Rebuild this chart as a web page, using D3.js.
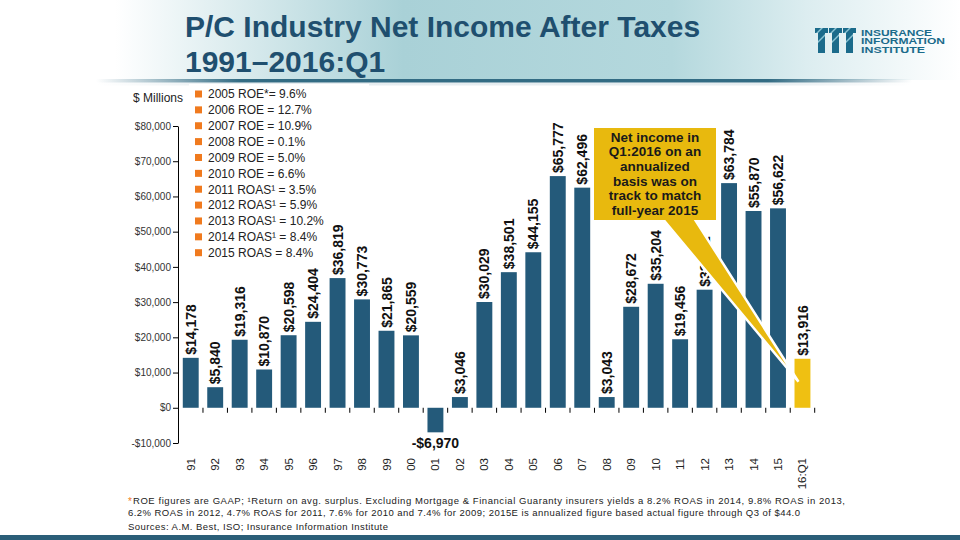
<!DOCTYPE html>
<html>
<head>
<meta charset="utf-8">
<script src="https://cdn.jsdelivr.net/npm/d3@7"></script>
<style>
  body { margin: 0; background: #fff; }
  svg { display: block; font-family: "Liberation Sans", Arial, sans-serif; }
</style>
</head>
<body>
<div id="chart"></div>
<script>
// data
const years = ['91', '92', '93', '94', '95', '96', '97', '98', '99', '00', '01', '02', '03',
    '04', '05', '06', '07', '08', '09', '10', '11', '12', '13', '14', '15', '16:Q1'];
const netIncome = [14178, 5840, 19316, 10870, 20598, 24404, 36819, 30773, 21865, 20559, -6970,
    3046, 30029, 38501, 44155, 65777, 62496, 3043, 28672, 35204, 19456, 33522, 63784,
    55870, 56622, 13916];
const yTicks = [-10000, 0, 10000, 20000, 30000, 40000, 50000, 60000, 70000, 80000];
const legendLines = ['2005 ROE*= 9.6%', '2006 ROE = 12.7%', '2007 ROE = 10.9%', '2008 ROE = 0.1%',
    '2009 ROE = 5.0%', '2010 ROE = 6.6%', '2011 ROAS\u00b9 = 3.5%', '2012 ROAS\u00b9 = 5.9%',
    '2013 ROAS\u00b9 = 10.2%', '2014 ROAS\u00b9 = 8.4%', '2015 ROAS = 8.4%'];
const calloutLines = ['Net income in', 'Q1:2016 on an', 'annualized', 'basis was on',
    'track to match', 'full-year 2015'];
const titleLines = ['P/C Industry Net Income After Taxes', '1991\u20132016:Q1'];
const footLines = [
    'ROE figures are GAAP; \u00b9Return on avg. surplus.  Excluding Mortgage & Financial Guaranty insurers yields a 8.2% ROAS in 2014, 9.8% ROAS in 2013,',
    '6.2% ROAS in 2012, 4.7% ROAS for 2011, 7.6% for 2010 and 7.4% for 2009; 2015E is annualized figure based actual figure through Q3 of $44.0',
    'Sources: A.M. Best, ISO; Insurance Information Institute'
];

const W = 960, H = 540;
const barColor = '#245a7a';
const gold = '#e8b90e';

const svg = d3.select('#chart').append('svg')
    .attr('width', W)
    .attr('height', H);

const defs = svg.append('defs');

const headGrad = defs.append('linearGradient').attr('id', 'headGrad');
headGrad.selectAll('stop')
    .data([[0, '#ffffff'], [0.12, '#ffffff'], [0.42, '#a9d1d7'], [0.7, '#b4d8dd'], [0.84, '#dcedf0'], [1, '#ffffff']])
    .enter().append('stop')
    .attr('offset', d => d[0])
    .attr('stop-color', d => d[1]);

const lineGrad = defs.append('linearGradient').attr('id', 'lineGrad');
lineGrad.selectAll('stop')
    .data([[0, 0], [0.1, 0], [0.25, 1], [0.8, 1], [0.95, 0], [1, 0]])
    .enter().append('stop')
    .attr('offset', d => d[0])
    .attr('stop-color', '#336c84')
    .attr('stop-opacity', d => d[1]);

// header
svg.append('rect')
    .attr('x', 0).attr('y', 0)
    .attr('width', W).attr('height', 80)
    .attr('fill', 'url(#headGrad)');

svg.append('rect')
    .attr('x', 0).attr('y', 79)
    .attr('width', W).attr('height', 3.5)
    .attr('fill', 'url(#lineGrad)');

svg.append('rect')
    .attr('x', 0).attr('y', 82.5)
    .attr('width', W).attr('height', 3)
    .attr('fill', 'url(#lineGrad)')
    .attr('opacity', 0.12);

svg.selectAll('.title')
    .data(titleLines)
    .enter().append('text')
    .attr('class', 'title')
    .attr('x', 185)
    .attr('y', (d, i) => 37 + i * 35)
    .attr('fill', '#1f4f6f')
    .style('font-size', '30px')
    .style('font-weight', 'bold')
    .text(d => d);

// logo
const logo = svg.append('g').attr('transform', 'translate(815,28)');
[0, 14, 28].forEach(dx => {
    logo.append('rect').attr('x', dx).attr('y', 0).attr('width', 13).attr('height', 5).attr('fill', '#1b6b8b');
    logo.append('rect').attr('x', dx + 3).attr('y', 5).attr('width', 7).attr('height', 20).attr('fill', '#1b6b8b');
    logo.append('path')
        .attr('d', `M${dx + 1},5 L${dx + 6},0 L${dx + 8},0 L${dx + 3},5 Z M${dx + 3},13 L${dx + 10},6 L${dx + 10},8 L${dx + 3},15 Z`)
        .attr('fill', '#8cc4d4');
});
logo.selectAll('.logoText')
    .data(['INSURANCE', 'INFORMATION', 'INSTITUTE'])
    .enter().append('text')
    .attr('x', 46)
    .attr('y', (d, i) => 7.5 + i * 8.5)
    .attr('fill', '#1b6b8b')
    .attr('textLength', (d, i) => [71, 84, 64][i])
    .attr('lengthAdjust', 'spacingAndGlyphs')
    .style('font-size', '9px')
    .style('font-weight', 'bold')
    .text(d => d);

// legend (drawn first so the value labels sit above its white box)
const legend = svg.append('g').attr('class', 'legend');
legend.append('rect')
    .attr('x', 189).attr('y', 84)
    .attr('width', 180).attr('height', 176)
    .attr('fill', '#fff');
const li = legend.selectAll('.item')
    .data(legendLines)
    .enter().append('g')
    .attr('class', 'item')
    .attr('transform', (d, i) => `translate(0,${94 + i * 15.87})`);
li.append('rect')
    .attr('x', 195).attr('y', -3.5)
    .attr('width', 7).attr('height', 7)
    .attr('fill', '#f07a1e');
li.append('text')
    .attr('x', 208)
    .attr('y', 4.3)
    .attr('fill', '#222')
    .style('font-size', '12px')
    .text(d => d);

// scales
const x = d3.scaleBand()
    .domain(years)
    .range([178.5, 814.7])
    .paddingInner(0.35)
    .paddingOuter(0.175);

const y = d3.scaleLinear()
    .domain([-10000, 80000])
    .range([443, 126]);

const money = d3.format(',');
const fmtMoney = v => (v < 0 ? '-$' : '$') + money(Math.abs(v));

// y axis
const yAxis = svg.append('g')
    .attr('transform', 'translate(178,0)')
    .call(d3.axisLeft(y)
        .tickValues(yTicks)
        .tickSize(5)
        .tickSizeOuter(0)
        .tickFormat(fmtMoney));
yAxis.select('.domain').attr('stroke', '#000');
yAxis.selectAll('.tick line').attr('stroke', '#000');
yAxis.selectAll('.tick text')
    .attr('x', -7)
    .attr('fill', '#333')
    .style('font-family', '"Liberation Sans", Arial, sans-serif')
    .style('font-size', '10px');

svg.append('text')
    .attr('x', 133)
    .attr('y', 102)
    .attr('fill', '#222')
    .style('font-size', '12px')
    .text('$ Millions');

// x ticks at band boundaries
const step = x.step();
const bounds = years.map(d => x(d) + x.bandwidth() + (step - x.bandwidth()) / 2);
svg.selectAll('.xtick')
    .data(bounds)
    .enter().append('line')
    .attr('class', 'xtick')
    .attr('x1', d => d).attr('x2', d => d)
    .attr('y1', y(0)).attr('y2', y(0) + 5)
    .attr('stroke', '#000');

svg.selectAll('.xlabel')
    .data(years)
    .enter().append('text')
    .attr('class', 'xlabel')
    .attr('transform', d => `translate(${x(d) + x.bandwidth() / 2},458) rotate(-90)`)
    .attr('text-anchor', 'end')
    .attr('dy', '0.35em')
    .attr('fill', '#222')
    .style('font-size', '11.5px')
    .text(d => d);

// bars
svg.selectAll('.bar')
    .data(netIncome)
    .enter().append('rect')
    .attr('class', 'bar')
    .attr('x', (d, i) => x(years[i]))
    .attr('y', d => y(Math.max(0, d)))
    .attr('width', x.bandwidth())
    .attr('height', d => Math.abs(y(d) - y(0)))
    .attr('fill', (d, i) => i === years.length - 1 ? '#efc012' : barColor);

// value labels
svg.selectAll('.val')
    .data(netIncome.map((v, i) => ({ v, i })).filter(d => d.v >= 0))
    .enter().append('text')
    .attr('class', 'val')
    .attr('transform', d => `translate(${x(years[d.i]) + x.bandwidth() / 2},${y(d.v) - 3}) rotate(-90)`)
    .attr('dy', '0.36em')
    .attr('fill', '#111')
    .style('font-size', '14px')
    .style('font-weight', 'bold')
    .text(d => fmtMoney(d.v));

svg.selectAll('.valNeg')
    .data(netIncome.map((v, i) => ({ v, i })).filter(d => d.v < 0))
    .enter().append('text')
    .attr('class', 'valNeg')
    .attr('x', d => x(years[d.i]) + x.bandwidth() / 2)
    .attr('y', d => y(d.v) + 16)
    .attr('text-anchor', 'middle')
    .attr('fill', '#111')
    .style('font-size', '14px')
    .style('font-weight', 'bold')
    .text(d => fmtMoney(d.v));

// callout, pointing at the Q1 bar
const lastYear = years[years.length - 1];
const tipX = x(lastYear) + x.bandwidth() / 2 - 4;
const tipY = y(netIncome[netIncome.length - 1]) + 23;
svg.append('path')
    .attr('d', `M662,218 L694,218 L${tipX},${tipY} Z`)
    .attr('fill', gold)
    .attr('stroke', '#fff')
    .attr('stroke-width', 2.5)
    .attr('stroke-linejoin', 'miter');
svg.append('rect')
    .attr('x', 594).attr('y', 128)
    .attr('width', 122).attr('height', 92)
    .attr('fill', gold);
svg.selectAll('.callout')
    .data(calloutLines)
    .enter().append('text')
    .attr('class', 'callout')
    .attr('x', 655)
    .attr('y', (d, i) => 141.8 + i * 14.6)
    .attr('text-anchor', 'middle')
    .attr('fill', '#1a1a1a')
    .style('font-size', '13.5px')
    .style('font-weight', 'bold')
    .text(d => d);

// footnotes
svg.append('text')
    .attr('x', 128)
    .attr('y', 505)
    .attr('fill', '#f07a1e')
    .style('font-size', '10px')
    .text('*');
svg.selectAll('.foot')
    .data(footLines)
    .enter().append('text')
    .attr('class', 'foot')
    .attr('x', (d, i) => i === 0 ? 133 : 128)
    .attr('y', (d, i) => 504 + i * 11.5 + (i === 2 ? 3 : 0))
    .attr('fill', '#222')
    .attr('textLength', (d, i) => [712, 672, 260][i])
    .attr('lengthAdjust', 'spacing')
    .style('font-size', '9.5px')
    .text(d => d);

svg.append('rect')
    .attr('x', 0).attr('y', 535)
    .attr('width', W).attr('height', 5)
    .attr('fill', '#2b5e78');
</script>
</body>
</html>
